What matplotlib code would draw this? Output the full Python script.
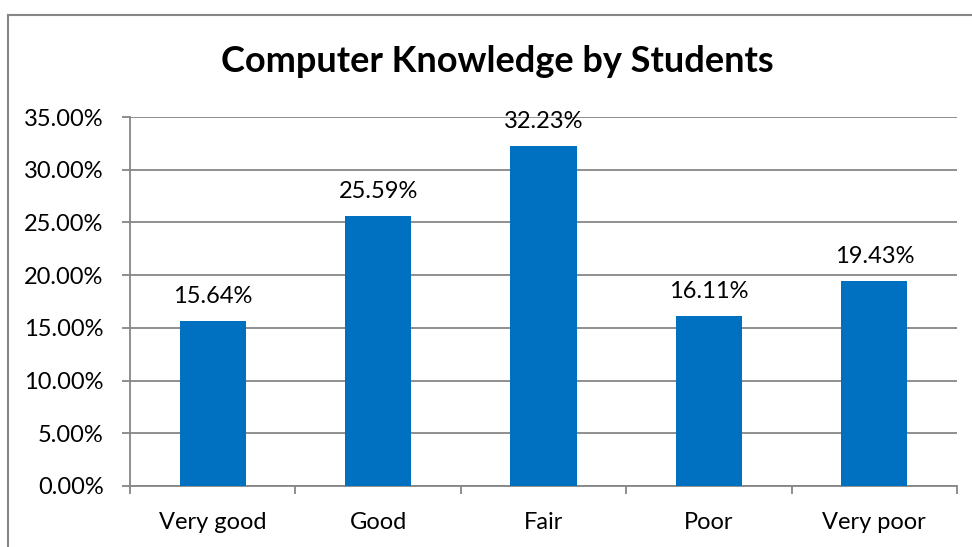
import matplotlib
matplotlib.use('Agg')
import matplotlib.pyplot as plt
from matplotlib.lines import Line2D
from matplotlib.ticker import FuncFormatter, MultipleLocator, FixedLocator

plt.rcParams['font.family'] = ['Lato', 'DejaVu Sans']

niveles = ['Very good', 'Good', 'Fair', 'Poor', 'Very poor']
porcentajes = [15.64, 25.59, 32.23, 16.11, 19.43]

gris = '#868686'
azul = '#0070C0'
tam = 17

fig = plt.figure(figsize=(9.72, 5.47), dpi=100)
ax = fig.add_axes([130 / 972, 1 - 486 / 547, (957 - 130) / 972, (486 - 117) / 547])

x = list(range(len(niveles)))
ax.bar(x, porcentajes, width=0.4, color=azul, zorder=3)

for xi, v in zip(x, porcentajes):
    ax.annotate(f'{v:.2f}%', (xi, v), xytext=(0, 18), textcoords='offset points',
                ha='center', va='center', fontsize=tam)

ax.set_xlim(-0.5, len(niveles) - 0.5)
ax.set_ylim(0, 35)
ax.yaxis.set_major_locator(MultipleLocator(5))
ax.yaxis.set_major_formatter(FuncFormatter(lambda v, p: f'{v:.2f}%'))
ax.grid(axis='y', color=gris, linewidth=1.3, zorder=0)

ax.set_xticks(x)
ax.set_xticklabels(niveles)
ax.xaxis.set_minor_locator(FixedLocator([i - 0.5 for i in range(len(niveles) + 1)]))
ax.tick_params(axis='x', which='major', length=0, pad=19, labelsize=tam)
ax.tick_params(axis='x', which='minor', length=6, width=1.3, color=gris)
ax.tick_params(axis='y', length=6, width=1.3, color=gris, pad=13, labelsize=tam)

for lado in ['top', 'right']:
    ax.spines[lado].set_visible(False)
for lado in ['left', 'bottom']:
    ax.spines[lado].set_color(gris)
    ax.spines[lado].set_linewidth(1.3)

# marco del grafico (solo izquierda y arriba quedan dentro de la imagen)
x0, y0 = 8 / 972, 1 - 15 / 547
fig.add_artist(Line2D([x0, x0], [0, y0], color=gris, linewidth=1.5, transform=fig.transFigure))
fig.add_artist(Line2D([x0, 1], [y0, y0], color=gris, linewidth=1.5, transform=fig.transFigure))

fig.text(497 / 972, 1 - 62 / 547, 'Computer Knowledge by Students', ha='center', va='center',
         fontsize=26, fontweight='bold')

fig.savefig('out.png', dpi=100)
plt.close(fig)
